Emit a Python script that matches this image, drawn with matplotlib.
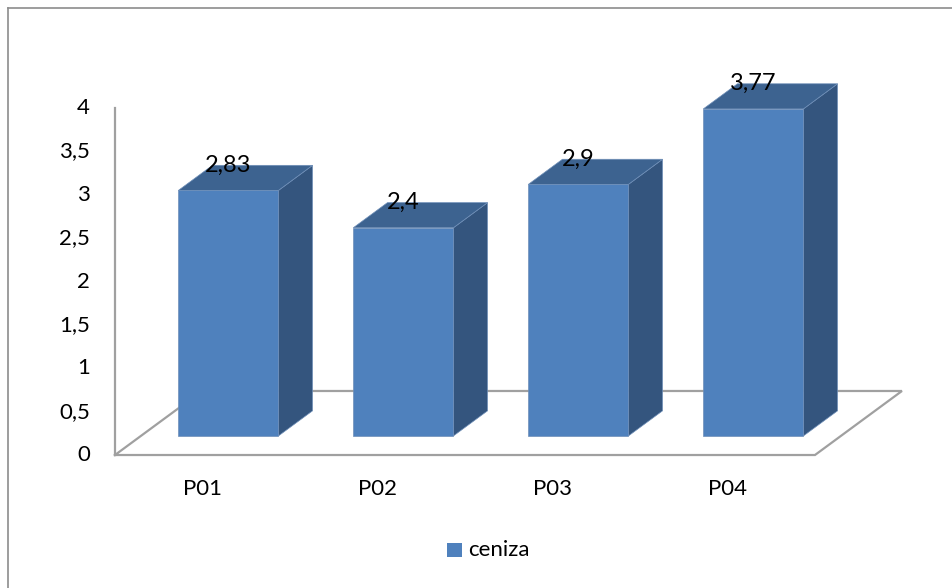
import matplotlib
matplotlib.use("Agg")
import matplotlib.pyplot as plt
from matplotlib.patches import Polygon, Rectangle
from matplotlib.lines import Line2D

# Data
categories = ["P01", "P02", "P03", "P04"]
ceniza = [2.83, 2.4, 2.9, 3.77]
value_labels = ["2,83", "2,4", "2,9", "3,77"]
yticks = [0, 0.5, 1, 1.5, 2, 2.5, 3, 3.5, 4]
ytick_labels = ["0", "0,5", "1", "1,5", "2", "2,5", "3", "3,5", "4"]
series_name = "ceniza"

# Styling / oblique projection
FRONT = "#4F81BD"
TOP = "#3D6390"
SIDE = "#34557E"
AXIS_GRAY = "#A0A0A0"
DX, DY = 0.497, 0.738      # full floor depth in data units
F0, F1 = 0.297, 0.69       # bar front / back depth fraction
HALF_W = 0.286             # half bar width
FONT = "Lato"
FS = 16

W, H = 952, 588
fig = plt.figure(figsize=(W / 100, H / 100), dpi=100)
ax = fig.add_axes([0, 0, 1, 1])
ax.set_xlim(-1.157, 4.283)
ax.set_ylim(-1.533, 5.245)
ax.axis("off")

n = len(categories)
x_lo, x_hi = -0.5, n - 0.5

# Floor outline
floor = [(x_lo, 0), (x_hi, 0), (x_hi + DX, DY), (x_lo + DX, DY), (x_lo, 0)]
ax.plot([p[0] for p in floor], [p[1] for p in floor], color=AXIS_GRAY, lw=1.6,
        solid_joinstyle="miter", zorder=1)
# Vertical axis line
ax.plot([x_lo, x_lo], [0, yticks[-1]], color=AXIS_GRAY, lw=1.6, zorder=1)

# Bars
for i, v in enumerate(ceniza):
    ox0, oy0 = F0 * DX, F0 * DY
    ox1, oy1 = F1 * DX, F1 * DY
    l, r = i - HALF_W, i + HALF_W
    front = [(l + ox0, oy0), (r + ox0, oy0), (r + ox0, v + oy0), (l + ox0, v + oy0)]
    top = [(l + ox0, v + oy0), (r + ox0, v + oy0), (r + ox1, v + oy1), (l + ox1, v + oy1)]
    side = [(r + ox0, oy0), (r + ox1, oy1), (r + ox1, v + oy1), (r + ox0, v + oy0)]
    for pts, col in ((side, SIDE), (top, TOP), (front, FRONT)):
        ax.add_patch(Polygon(pts, closed=True, facecolor=col, edgecolor="#6F8FB8",
                             lw=0.5, zorder=2))
    ax.text(i + ox0, v + oy1, value_labels[i], ha="center", va="center",
            fontsize=FS + 1, family=FONT, color="black", zorder=3)

# Axis tick labels
for t, lab in zip(yticks, ytick_labels):
    ax.text(x_lo - 0.143, t, lab, ha="right", va="center", fontsize=FS,
            family=FONT, color="black")
for i, lab in enumerate(categories):
    ax.text(i, -0.39, lab, ha="center", va="center", fontsize=FS,
            family=FONT, color="black")

# Legend
ax.add_patch(Rectangle((1.397, -1.176), 0.086, 0.162, facecolor=FRONT,
                       edgecolor="none"))
ax.text(1.517, -1.095, series_name, ha="left", va="center", fontsize=FS,
        family=FONT, color="black")

# Chart-area border (left and top edges)
fig.add_artist(Line2D([7.5 / W, 7.5 / W], [0, 1 - 7.5 / H], transform=fig.transFigure,
                      color="#8C8C8C", lw=1.2))
fig.add_artist(Line2D([7.5 / W, 1], [1 - 7.5 / H, 1 - 7.5 / H], transform=fig.transFigure,
                      color="#8C8C8C", lw=1.2))

fig.savefig("out.png", dpi=100, facecolor="white")
